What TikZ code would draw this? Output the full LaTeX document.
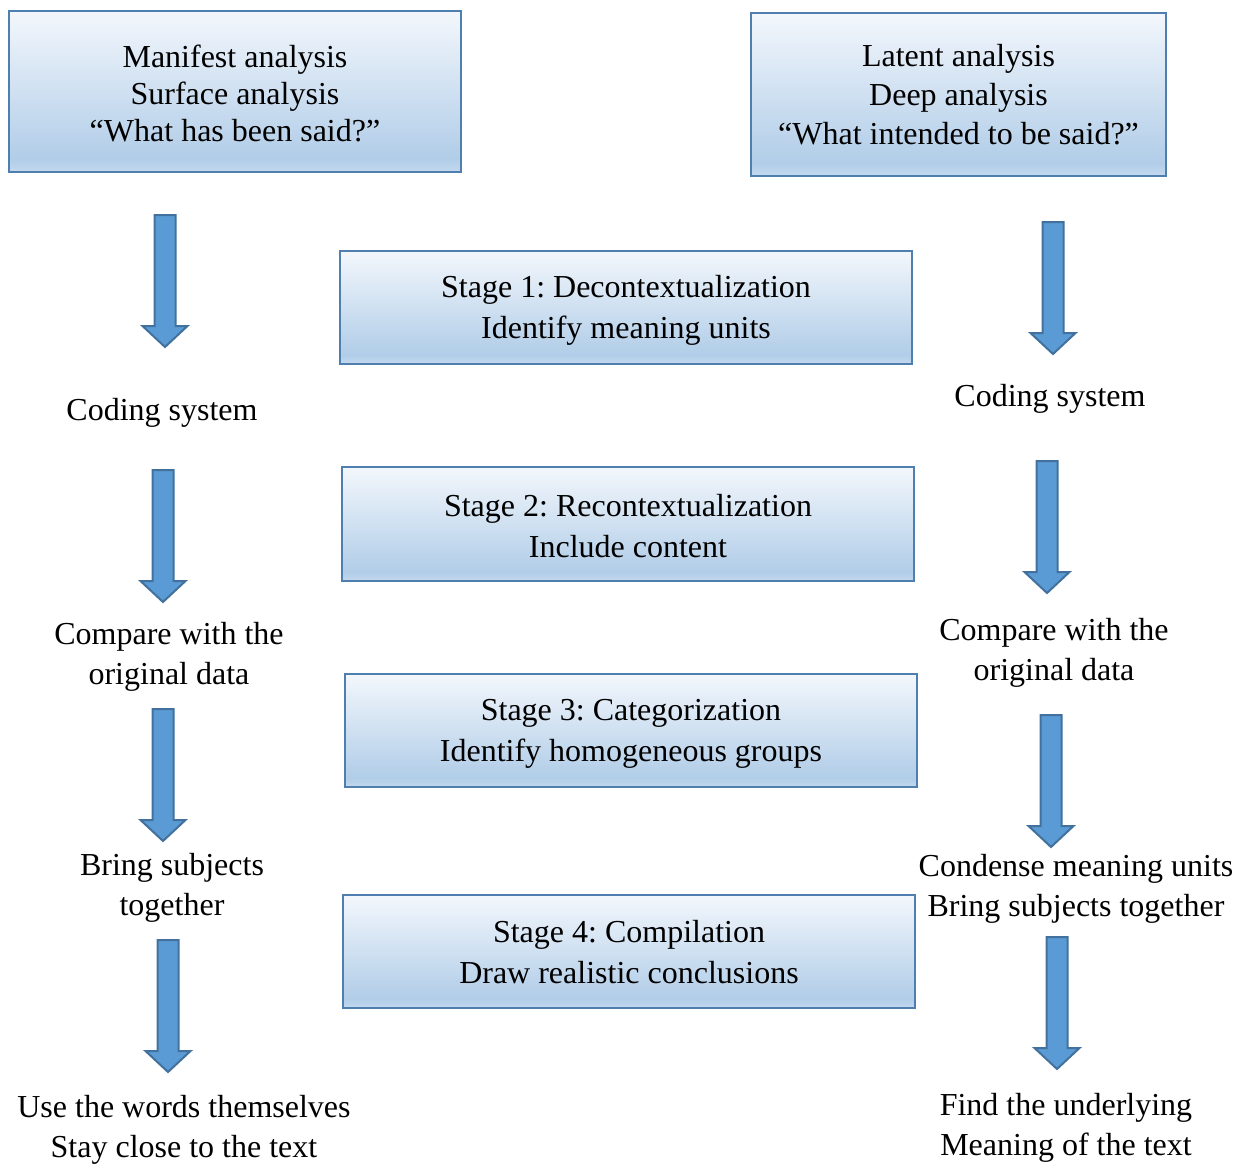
\documentclass[tikz,border=0pt]{standalone}
\usepackage{fontspec}
\setmainfont{Liberation Serif}
\frenchspacing
\definecolor{boxline}{HTML}{4F7FAF}
\definecolor{boxtop}{HTML}{F3F7FC}
\definecolor{boxmid}{HTML}{B1CDE8}
\definecolor{boxbot}{HTML}{C4D9EE}
\definecolor{arrfill}{HTML}{5B9BD5}
\definecolor{arrline}{HTML}{41719C}
\pgfdeclareverticalshading{boxshade}{100bp}{color(0bp)=(boxbot); color(25bp)=(boxbot); color(29bp)=(boxmid); color(75bp)=(boxtop); color(100bp)=(boxtop)}
\tikzset{
  bluebox/.style={draw=boxline, line width=2pt, shading=boxshade, inner sep=0pt},
  boxtext/.style={align=center, inner sep=0pt, font=\fontsize{32}{41}\selectfont},
  lbl/.style={align=center, inner sep=0pt, font=\fontsize{32}{40}\selectfont},
  arr/.style={draw=arrline, line width=2pt, fill=arrfill, line join=miter},
  downarr/.pic={\draw[arr] (-10.5,0) -- (10.5,0) -- (10.5,111) -- (22.5,111) -- (0,132) -- (-22.5,111) -- (-10.5,111) -- cycle;}
}
\begin{document}
\begin{tikzpicture}[x=1pt,y=-1pt]
\useasboundingbox (0,0) rectangle (1243,1163);
% top boxes
\node[bluebox, minimum width=452pt, minimum height=161pt] (manifest) at (235,91.5) {};
\node[boxtext, font=\fontsize{32}{37}\selectfont] (manifestt) at ([yshift=-2pt]manifest.center) {Manifest analysis\\Surface analysis\\“What has been said?”};
\node[bluebox, minimum width=415pt, minimum height=163pt] (latent) at (958.5,94.5) {};
\node[boxtext, font=\fontsize{32}{39}\selectfont] (latentt) at (latent.center) {Latent analysis\\Deep analysis\\“What intended to be said?”};
% stage boxes
\node[bluebox, minimum width=572pt, minimum height=113pt] (s1) at (626,307.5) {};
\node[boxtext] (s1t) at ([yshift=-3pt]s1.center) {Stage 1: Decontextualization\\Identify meaning units};
\node[bluebox, minimum width=572pt, minimum height=114pt] (s2) at (628,524) {};
\node[boxtext] (s2t) at ([yshift=-2pt]s2.center) {Stage 2: Recontextualization\\Include content};
\node[bluebox, minimum width=572pt, minimum height=113pt] (s3) at (631,730.5) {};
\node[boxtext] (s3t) at ([yshift=-3pt]s3.center) {Stage 3: Categorization\\Identify homogeneous groups};
\node[bluebox, minimum width=572pt, minimum height=113pt] (s4) at (629,951.5) {};
\node[boxtext] (s4t) at ([yshift=-1pt]s4.center) {Stage 4: Compilation\\Draw realistic conclusions};
% left column texts
\node[lbl] (codL) at (162,413) {Coding system};
\node[lbl] (cmpL) at (169,657) {Compare with the\\original data};
\node[lbl] (brL) at (172,888) {Bring subjects\\together};
\node[lbl] (useL) at (184,1129.5) {Use the words themselves\\Stay close to the text};
% right column texts
\node[lbl] (codR) at (1050,399) {Coding system};
\node[lbl] (cmpR) at (1054,653) {Compare with the\\original data};
\node[lbl] (condR) at (1076,889) {Condense meaning units\\Bring subjects together};
\node[lbl] (findR) at (1066,1128) {Find the underlying\\Meaning of the text};
% arrows
\coordinate (aL1) at (165,215);
\coordinate (aL2) at (163,470);
\coordinate (aL3) at (163,709);
\coordinate (aL4) at (168,940);
\coordinate (aR1) at (1053,222);
\coordinate (aR2) at (1047,461);
\coordinate (aR3) at (1051,715);
\coordinate (aR4) at (1057,937);
\foreach \c in {aL1,aL2,aL3,aL4,aR1,aR2,aR3,aR4}{\pic at (\c) {downarr};}
\end{tikzpicture}
\end{document}
